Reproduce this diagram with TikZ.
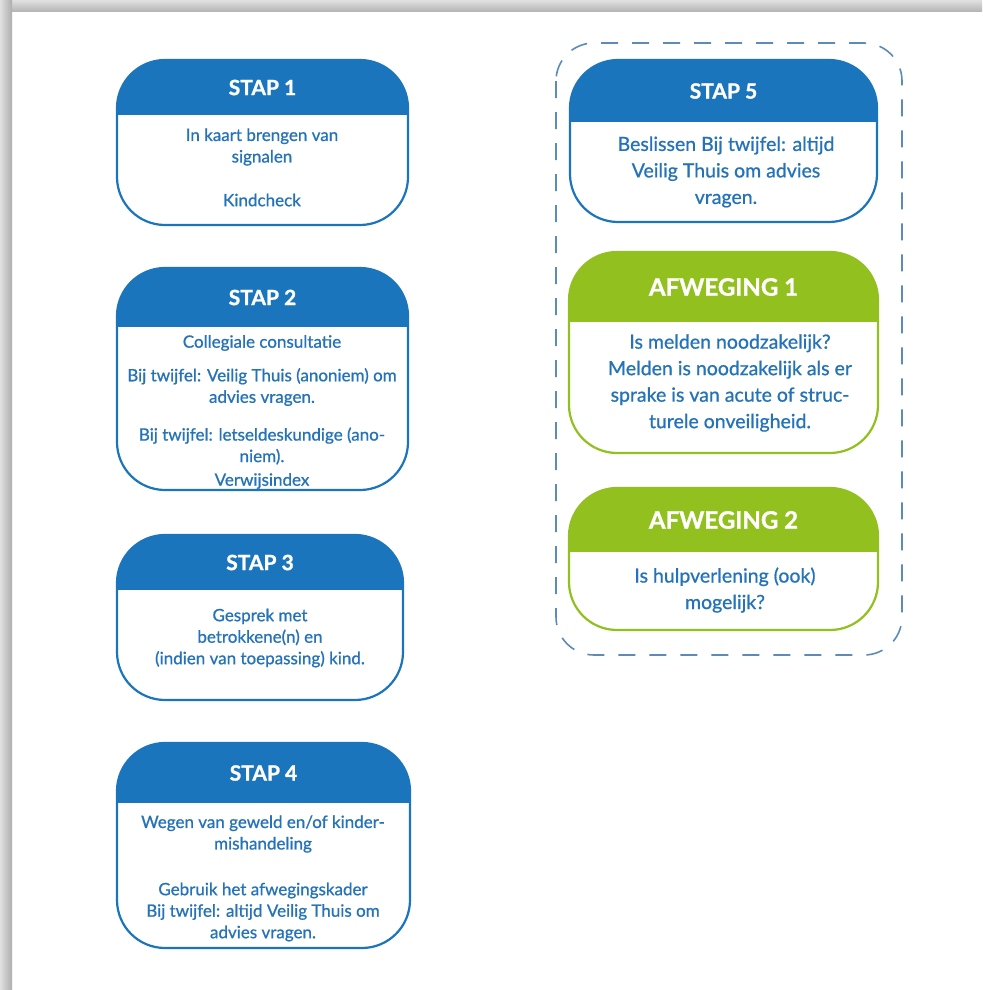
\documentclass[tikz,border=0pt]{standalone}
\usepackage{fontspec}
\setmainfont{Lato}
\newfontfamily\bodyfont[FakeBold=0.8]{Lato}
\newfontfamily\headfont[FakeBold=1.2]{Lato}
\definecolor{boxblue}{HTML}{1B75BC}
\definecolor{txtblue}{HTML}{2473B9}
\definecolor{boxgreen}{HTML}{92C01F}
\definecolor{dashblue}{HTML}{5B8BB6}
\tikzset{
  headtxt/.style={text=white, inner sep=0pt, font=\headfont\fontsize{21}{24}\selectfont\bfseries},
  headbig/.style={text=white, inner sep=0pt, font=\headfont\fontsize{24}{27}\selectfont\bfseries},
  bodytxt/.style={text=txtblue, align=center, inner sep=0pt, font=\bodyfont\fontsize{17}{21.5}\selectfont},
  bigtxt/.style={text=txtblue, align=center, inner sep=0pt, font=\bodyfont\fontsize{19.5}{26.5}\selectfont},
  frame/.style={line width=2.2pt, rounded corners=48pt},
  container/.style={draw=dashblue, line width=1.6pt, rounded corners=38pt, dash pattern=on 17pt off 14pt}
}
% #1 name, #2 x1, #3 y1, #4 x2, #5 y2, #6 y of header bottom, #7 colour, #8 header style, #9 header text
\newcommand\flowbox[9]{%
  \begin{scope}
    \clip[rounded corners=48pt] (#2,#3) rectangle (#4,#5);
    \fill[#7] (#2,#3) rectangle (#4,#6);
  \end{scope}
  \draw[#7, frame] (#2,#3) rectangle (#4,#5);
  \node[#8] (#1) at ({(#2+#4)/2},{(#3+#6)/2}) {#9};
}
\begin{document}
\begin{tikzpicture}[x=1pt,y=-1pt]
\useasboundingbox (0,0) rectangle (982,990);
\fill[white] (0,0) rectangle (982,990);
% page shadow
\shade[top color=black!12, bottom color=black!30] (0,0) rectangle (982,12);
\shade[left color=black!12, right color=black!32] (0,0) rectangle (12,990);

% dashed container
\draw[container] (556,43) rectangle (902,655);

% STAP 1
\flowbox{s1}{117}{60}{408}{225}{115}{boxblue}{headtxt}{STAP 1}
\node[bodytxt] (s1a) at (262,147) {In kaart brengen van\\signalen};
\node[bodytxt] (s1b) at (262,200) {Kindcheck};

% STAP 2
\flowbox{s2}{117}{268}{408}{490}{327}{boxblue}{headtxt}{STAP 2}
\node[bodytxt] (s2a) at (262,343) {Collegiale consultatie};
\node[bodytxt] (s2b) at (262,387) {Bij twijfel: Veilig Thuis (anoniem) om\\advies vragen.};
\node[bodytxt] (s2c) at (262,446) {Bij twijfel: letseldeskundige (ano-\\niem).};
\node[bodytxt] (s2d) at (262,481) {Verwijsindex};

% STAP 3
\flowbox{s3}{117}{535}{403}{700}{590}{boxblue}{headtxt}{STAP 3}
\node[bodytxt] (s3a) at (260,638) {Gesprek met\\betrokkene(n) en\\(indien van toepassing) kind.};

% STAP 4
\flowbox{s4}{117}{743}{410}{948}{803}{boxblue}{headtxt}{STAP 4}
\node[bodytxt] (s4a) at (263,834) {Wegen van geweld en/of kinder-\\mishandeling};
\node[bodytxt] (s4b) at (263,912) {Gebruik het afwegingskader\\Bij twijfel: altijd Veilig Thuis om\\advies vragen.};

% STAP 5
\flowbox{s5}{570}{60}{877}{222}{122}{boxblue}{headtxt}{STAP 5}
\node[bigtxt] (s5a) at (726,172) {Beslissen Bij twijfel: altijd\\Veilig Thuis om advies\\vragen.};

% AFWEGING 1
\flowbox{a1}{569}{252}{878}{453}{322}{boxgreen}{headbig}{AFWEGING 1}
\node[bigtxt] (a1a) at (730,383) {Is melden noodzakelijk?\\Melden is noodzakelijk als er\\sprake is van acute of struc-\\turele onveiligheid.};

% AFWEGING 2
\flowbox{a2}{569}{488}{878}{630}{552}{boxgreen}{headbig}{AFWEGING 2}
\node[bigtxt] (a2a) at (725,590) {Is hulpverlening (ook)\\mogelijk?};
\end{tikzpicture}
\end{document}
